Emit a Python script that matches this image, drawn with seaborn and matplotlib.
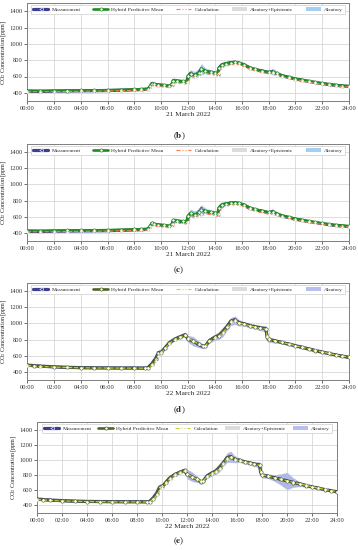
import numpy as np
import pandas as pd
import matplotlib
matplotlib.use("Agg")
import matplotlib.pyplot as plt
import seaborn as sns

# ---------------- data: 21 March 2022 (panels b, c) ----------------
t21 = [0, 1, 2, 3, 4, 5, 6, 7, 8, 8.5, 9.0, 9.2, 9.3, 9.5, 9.8, 10.2, 10.6, 10.8, 10.9,
       11.2, 11.6, 11.9, 12.0, 12.2, 12.5, 12.8, 13.0, 13.3, 13.7, 14.0, 14.2, 14.3, 14.5,
       14.8, 15.2, 15.5, 15.8, 16.2, 16.6, 17.0, 17.5, 18.0, 18.3, 18.6, 19.0, 19.5, 20.0,
       20.5, 21.0, 21.5, 22.0, 22.5, 23.0, 23.5, 24.0]
meas21 = [420, 418, 421, 423, 425, 426, 428, 432, 437, 440, 444, 480, 515, 505, 498, 490, 480,
          500, 550, 545, 538, 530, 600, 640, 612, 640, 700, 660, 650, 640, 622, 700, 740, 755,
          770, 775, 765, 742, 705, 685, 668, 650, 662, 636, 610, 590, 570, 555, 540, 526, 513,
          502, 492, 485, 478]
calc21 = [414, 413, 415, 417, 419, 420, 422, 426, 430, 432, 434, 445, 470, 480, 478, 472, 463,
          470, 505, 518, 515, 507, 530, 585, 598, 610, 640, 636, 626, 616, 602, 640, 700, 728,
          742, 748, 742, 720, 690, 668, 650, 632, 640, 620, 598, 578, 560, 545, 530, 516, 504,
          493, 484, 477, 470]
hyb21b = [425, 423, 425, 427, 429, 430, 432, 436, 441, 444, 448, 485, 512, 506, 500, 493, 484,
          505, 548, 546, 540, 533, 605, 635, 618, 645, 690, 665, 655, 645, 628, 705, 742, 758,
          770, 774, 765, 744, 708, 688, 670, 652, 660, 638, 612, 592, 572, 557, 542, 528, 515,
          504, 494, 487, 480]
hyb21c = [428, 426, 428, 430, 431, 432, 434, 438, 443, 446, 450, 490, 520, 510, 503, 496, 486,
          510, 555, 550, 544, 536, 612, 645, 625, 655, 680, 668, 658, 648, 630, 712, 748, 762,
          772, 776, 768, 748, 712, 692, 674, 655, 662, 640, 615, 595, 575, 560, 545, 531, 518,
          507, 497, 490, 483]
ae21 = [12, 12, 12, 12, 12, 12, 12, 12, 12, 12, 14, 30, 35, 25, 20, 18, 20, 30, 40, 25, 20, 22,
        40, 50, 45, 50, 60, 40, 30, 25, 30, 40, 35, 30, 25, 25, 22, 20, 20, 18, 18, 18, 35, 25,
        15, 15, 12, 12, 12, 12, 12, 12, 12, 12, 12]
al21 = [8, 8, 8, 8, 8, 8, 8, 8, 8, 8, 10, 25, 35, 20, 15, 12, 15, 25, 35, 18, 14, 15,
        35, 45, 40, 50, 70, 35, 25, 20, 25, 35, 30, 25, 20, 20, 18, 15, 15, 12, 12, 14, 40, 20,
        10, 10, 8, 8, 8, 8, 8, 8, 8, 8, 8]

# ---------------- data: 22 March 2022 (panels d, e) ----------------
t22 = [0, 0.5, 1, 2, 3, 4, 5, 6, 7, 8, 8.8, 9.0, 9.3, 9.6, 9.8, 10.0, 10.3, 10.6, 11.0, 11.4,
       11.8, 12.0, 12.4, 12.8, 13.1, 13.3, 13.6, 14.0, 14.3, 14.6, 14.9, 15.2, 15.5, 15.8, 16.2,
       16.6, 17.0, 17.4, 17.8, 17.9, 18.0, 18.5, 19.0, 19.5, 20.0, 20.5, 21.0, 21.5, 22.0, 22.5,
       23.0, 23.5, 24.0]
meas22 = [485, 478, 472, 463, 457, 453, 451, 450, 449, 449, 448, 452, 500, 570, 640, 640, 700,
          760, 805, 835, 862, 805, 775, 740, 715, 720, 790, 830, 850, 900, 960, 1030, 1045, 1010,
          995, 975, 960, 945, 935, 830, 800, 785, 765, 745, 725, 705, 685, 665, 645, 628, 610,
          595, 580]
calc22 = [478, 472, 467, 460, 455, 451, 449, 448, 447, 447, 446, 448, 480, 540, 600, 630, 690,
          750, 800, 830, 855, 820, 780, 745, 720, 722, 780, 820, 845, 880, 950, 1015, 1035, 1005,
          990, 970, 955, 940, 930, 840, 805, 785, 765, 745, 725, 705, 685, 665, 646, 628, 611,
          596, 582]
hyb22d = [482, 476, 470, 462, 456, 452, 450, 449, 448, 448, 447, 450, 495, 560, 630, 645, 700,
          758, 802, 832, 858, 810, 778, 742, 718, 722, 788, 828, 850, 895, 955, 1025, 1040, 1008,
          993, 973, 958, 943, 933, 835, 802, 784, 764, 744, 724, 704, 684, 664, 645, 628, 610,
          595, 580]
hyb22e = [480, 475, 469, 461, 455, 451, 449, 448, 447, 447, 446, 449, 490, 555, 640, 650, 705,
          762, 808, 838, 865, 815, 780, 745, 712, 718, 785, 825, 855, 900, 960, 1030, 1042, 1010,
          995, 975, 960, 945, 935, 840, 800, 782, 762, 742, 722, 702, 682, 662, 643, 626, 608,
          592, 577]
ae22d = [15, 15, 15, 12, 12, 12, 12, 12, 12, 12, 12, 14, 25, 40, 50, 35, 25, 20, 20, 20, 25,
         45, 60, 40, 30, 25, 30, 40, 50, 60, 45, 50, 55, 40, 30, 30, 30, 35, 40, 60, 40, 25,
         20, 20, 20, 20, 20, 20, 20, 15, 15, 15, 15]
al22d = [12, 12, 12, 10, 10, 10, 10, 10, 10, 10, 10, 12, 20, 35, 45, 30, 20, 18, 18, 18, 22,
         40, 55, 40, 28, 22, 25, 35, 45, 55, 40, 45, 50, 35, 25, 25, 25, 30, 35, 55, 35, 22,
         18, 18, 18, 18, 18, 18, 18, 14, 14, 14, 14]
ae22e = [15, 15, 15, 12, 12, 12, 12, 12, 12, 12, 12, 14, 25, 40, 50, 35, 25, 20, 20, 20, 25,
         65, 65, 45, 30, 25, 30, 40, 50, 60, 45, 65, 75, 50, 30, 30, 30, 35, 40, 60, 40, 30,
         45, 75, 115, 65, 35, 20, 20, 15, 15, 15, 15]
al22e = [12, 12, 12, 10, 10, 10, 10, 10, 10, 10, 10, 12, 20, 35, 45, 30, 20, 18, 18, 18, 22,
         60, 60, 40, 28, 22, 25, 35, 45, 55, 40, 60, 70, 45, 25, 25, 25, 30, 35, 55, 35, 25,
         40, 70, 110, 60, 30, 18, 18, 14, 14, 14, 14]

xticks = list(range(0, 25, 2))
xticklabels = [f"{h:02d}:00" for h in xticks]
yticks = [400, 600, 800, 1000, 1200, 1400]

# ---------------- style ----------------
sns.set_style("whitegrid")
plt.rcParams["font.family"] = ["Liberation Serif", "DejaVu Serif"]
plt.rcParams["mathtext.fontset"] = "stix"

fig = plt.figure(figsize=(3.58, 5.5), dpi=100)

pal_bc = dict(meas="#3b3f8f", hyb="#1e8c1e", calc="#ff7f50", ae="#d9d9d9", al="#8ec3ef")
pal_de = dict(meas="#3b3f8f", hyb="#4f6228", calc="#c9d43a", ae="#d9d9d9", al="#a7b0ea")


def panel(rect, t, meas, hyb, calc, ae, al, pal, date, tag, tag_y, legspace):
    ax = fig.add_axes(rect)
    t = np.array(t, float)
    hyb_a = np.array(hyb, float)
    ae = np.array(ae, float)
    al = np.array(al, float)
    ax.fill_between(t, hyb_a - ae, hyb_a + ae, color=pal["ae"], lw=0, alpha=0.9,
                    label="Aleatory+Epistemic", zorder=1)
    ax.fill_between(t, hyb_a - al, hyb_a + al, color=pal["al"], lw=0, alpha=0.8,
                    label="Aleatory", zorder=2)
    df = pd.DataFrame({"t": t, "meas": meas, "hyb": hyb, "calc": calc})
    sns.lineplot(data=df, x="t", y="meas", ax=ax, color=pal["meas"], lw=2.3,
                 marker="<", markersize=2.6, markeredgewidth=0.4,
                 label="Measurement", zorder=3)
    sns.lineplot(data=df, x="t", y="hyb", ax=ax, color=pal["hyb"], lw=1.9,
                 marker="o", markersize=2.3, markerfacecolor="white",
                 markeredgecolor=pal["hyb"], markeredgewidth=0.5,
                 label="Hybrid Predictive Mean", zorder=4)
    sns.lineplot(data=df, x="t", y="calc", ax=ax, color=pal["calc"], lw=0.8,
                 linestyle="--", marker=".", markersize=1.8,
                 label="Calculation", zorder=5)
    ax.set_xlim(0, 24)
    ax.set_ylim(300, 1500)
    ax.set_xticks(xticks)
    ax.set_xticklabels(xticklabels)
    ax.set_yticks(yticks)
    ax.tick_params(axis="both", labelsize=4.7, length=2, width=0.5, pad=1.5,
                   colors="#333333", bottom=True, left=True)
    ax.grid(True, color="#d0d0d0", lw=0.5)
    for s in ax.spines.values():
        s.set_color("#7f7f7f")
        s.set_linewidth(0.7)
    ax.set_xlabel(date, fontsize=5.2, labelpad=0.5)
    ax.set_ylabel(r"CO$_2$ Concentration [ppm]", fontsize=4.4, labelpad=1.0)
    h, l = ax.get_legend_handles_labels()
    order = ["Measurement", "Hybrid Predictive Mean", "Calculation",
             "Aleatory+Epistemic", "Aleatory"]
    hh = [h[l.index(o)] for o in order]
    leg = ax.legend(hh, order, loc="upper center", bbox_to_anchor=(0.5, 1.0), ncol=5,
                    fontsize=3.9, handlelength=2.8, columnspacing=legspace, handletextpad=0.6,
                    borderaxespad=0.3, borderpad=0.4, frameon=True, fancybox=False,
                    framealpha=1)
    leg.get_frame().set_edgecolor("#cccccc")
    leg.get_frame().set_linewidth(0.5)
    fig.text(0.5, tag_y, r"($\mathbf{" + tag + r"}$)", ha="center", va="center",
             fontsize=6.5)
    return ax


panel([27 / 358, 1 - 101 / 550, 322 / 358, 98 / 550], t21, meas21, hyb21b, calc21, ae21, al21,
      pal_bc, "21 March 2022", "b", 1 - 136 / 550, 2.3)
panel([27 / 358, 1 - 241 / 550, 322 / 358, 97 / 550], t21, meas21, hyb21c, calc21, ae21, al21,
      pal_bc, "21 March 2022", "c", 1 - 270 / 550, 2.3)
panel([27 / 358, 1 - 380 / 550, 322 / 358, 97 / 550], t22, meas22, hyb22d, calc22, ae22d, al22d,
      pal_de, "22 March 2022", "d", 1 - 410 / 550, 2.3)
panel([37 / 358, 1 - 513 / 550, 300 / 358, 91 / 550], t22, meas22, hyb22e, calc22, ae22e, al22e,
      pal_de, "22 March 2022", "e", 1 - 541 / 550, 1.2)

fig.savefig("out.png", dpi=100)
